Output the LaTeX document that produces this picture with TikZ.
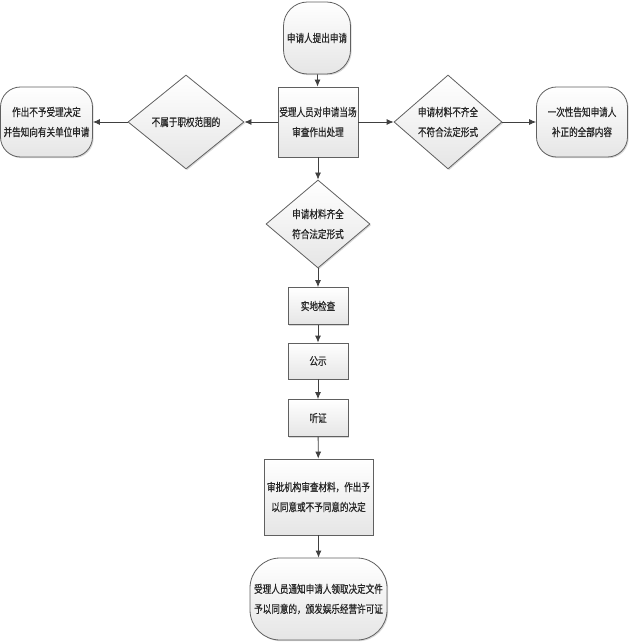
\documentclass[tikz,border=0pt]{standalone}
\usepackage{fontspec}
\setmainfont{Noto Sans CJK SC}[FakeStretch=0.78,FakeBold=0.6]
\usetikzlibrary{shapes.geometric,arrows.meta,shadows}
\tikzset{
  base/.style={draw=gray!75!black, line width=0.8pt, top color=white, bottom color=gray!20,
    drop shadow={shadow xshift=1.2pt, shadow yshift=-1.2pt, fill=gray!60, opacity=0.5},
    align=center, inner sep=0pt, font=\fontsize{11}{20}\selectfont, text=black!85},
  procbox/.style={base, rectangle},
  termbox/.style={base, rectangle, rounded corners=#1},
  decision/.style={base, diamond, aspect=1.2},
  arr/.style={draw=black!75, line width=0.8pt, -{Latex[length=7pt,width=6pt]}}
}
\begin{document}
\begin{tikzpicture}[x=1pt,y=-1pt]
\useasboundingbox (0,0) rectangle (630,644);

\node[termbox=24pt, minimum width=67pt, minimum height=72pt] (start) at (317,38) {申请人提出申请};
\node[procbox, minimum width=80pt, minimum height=70pt] (main) at (318,122) {受理人员对申请当场\\审查作出处理};
\node[decision, minimum width=116pt, minimum height=94pt] (dl) at (186,122) {不属于职权范围的};
\node[termbox=20pt, minimum width=92pt, minimum height=70pt] (tl) at (46.5,122) {作出不予受理决定\\并告知向有关单位申请};
\node[decision, minimum width=108pt, minimum height=94pt] (dr) at (448,122) {申请材料不齐全\\不符合法定形式};
\node[termbox=20pt, minimum width=91pt, minimum height=70pt] (tr) at (582,122) {一次性告知申请人\\补正的全部内容};
\node[decision, minimum width=104pt, minimum height=88pt] (dm) at (318,224) {申请材料齐全\\符合法定形式};
\node[procbox, minimum width=60pt, minimum height=37pt] (check) at (318,306) {实地检查};
\node[procbox, minimum width=60pt, minimum height=36pt] (pub) at (318,361) {公示};
\node[procbox, minimum width=60pt, minimum height=37pt] (hear) at (318,418) {听证};
\node[procbox, minimum width=109pt, minimum height=76pt] (appr) at (318.5,497) {审批机构审查材料，作出予\\以同意或不予同意的决定};
\node[termbox=30pt, minimum width=137pt, minimum height=82pt] (final) at (318.5,599) {受理人员通知申请人领取决定文件\\予以同意的，颁发娱乐经营许可证};

\draw[arr] (start) -- (main);
\draw[arr] (main) -- (dl);
\draw[arr] (dl) -- (tl);
\draw[arr] (main) -- (dr);
\draw[arr] (dr) -- (tr);
\draw[arr] (main) -- (dm);
\draw[arr] (dm) -- (check);
\draw[arr] (check) -- (pub);
\draw[arr] (pub) -- (hear);
\draw[arr] (hear) -- (appr);
\draw[arr] (appr) -- (final);
\end{tikzpicture}
\end{document}
